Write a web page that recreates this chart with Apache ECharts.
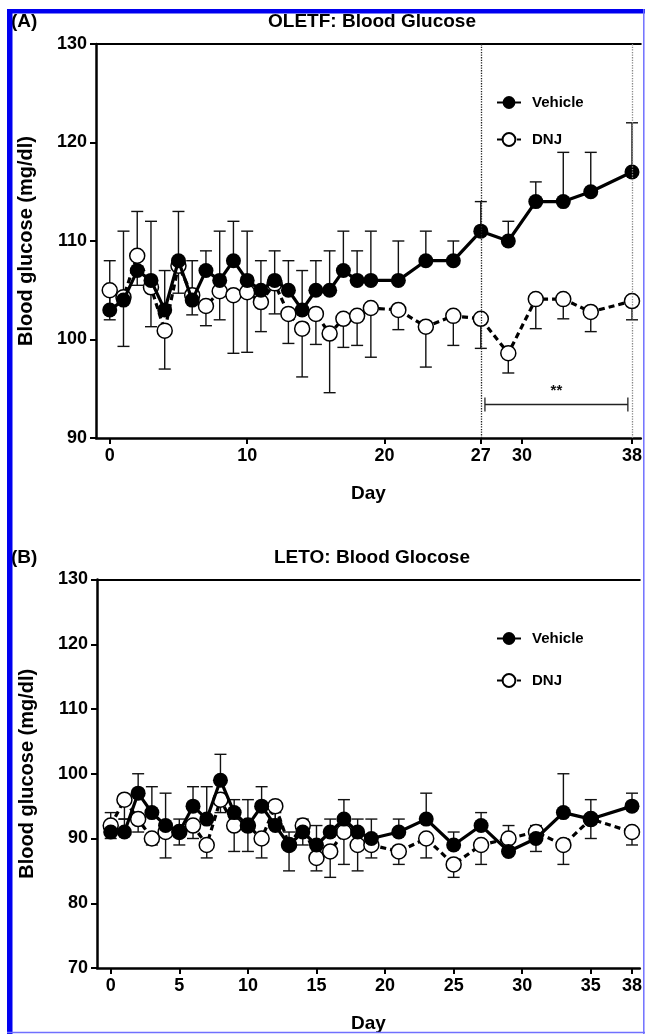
<!DOCTYPE html>
<html>
<head>
<meta charset="utf-8">
<title>Blood glucose</title>
<script src="https://cdn.jsdelivr.net/npm/echarts@6.0.0/dist/echarts.min.js"></script>
<style>
body { margin: 0; background: #fff; }
#chart { width: 645px; height: 1034px; }
</style>
</head>
<body>
<div id="chart"></div>
<script>
// sampling days (both panels)
var days = [0, 1, 2, 3, 4, 5, 6, 7, 8, 9, 10, 11, 12, 13, 14, 15, 16, 17, 18, 19, 21, 23, 25, 27, 29, 31, 33, 35, 38];

// (A) OLETF
var vehicleA = [103, 104, 107, 106, 103, 108, 104, 107, 106, 108, 106, 105, 106, 105, 103, 105, 105, 107, 106, 106, 106, 108, 108, 111, 110, 114, 114, 115, 117];
var vehicleErrA = [5, 7, 6, 6, 4, 5, 4, 2, 5, 4, 5, 3, 3, 3, 4, 3, 4, 4, 3, 5, 4, 3, 2, 3, 2, 2, 5, 4, 5];
var dnjA = [105, 104.3, 108.5, 105.3, 100.9, 107.5, 104.5, 103.4, 104.9, 104.5, 104.8, 103.8, 105.7, 102.6, 101.1, 102.6, 100.6, 102.1, 102.4, 103.2, 103.0, 101.3, 102.4, 102.1, 98.6, 104.1, 104.1, 102.8, 103.9];
var dnjErrA = [3, 5, 3, 4, 3.9, 2.8, 2, 2, 2.9, 5.9, 6.1, 3, 3.1, 3, 4.9, 3.1, 6, 2.9, 3, 5, 2, 4.1, 3, 3, 2, 3, 2, 2, 1.9];

// (B) LETO
var vehicleB = [91, 91, 97, 94, 92, 91, 95, 93, 99, 94, 92, 95, 92, 89, 91, 89, 91, 93, 91, 90, 91, 93, 89, 92, 88, 90, 94, 93, 95];
var vehicleErrB = [3, 2, 3, 4, 5, 2, 3, 5, 4, 2, 4, 3, 2, 2, 2, 3, 2, 3, 2, 3, 2, 4, 2, 2, 4, 2, 6, 3, 2];
var dnjB = [92, 96, 93, 90, 91, 91, 92, 89, 96, 92, 92, 90, 95, 89, 92, 87, 88, 91, 89, 89, 88, 90, 86, 89, 90, 91, 89, 93, 91];
var dnjErrB = [2, 3, 2, 1, 4, 2, 2, 2, 2, 4, 4, 3, 2, 4, 3, 2, 4, 5, 4, 2, 2, 3, 2, 3, 2, 3, 3, 3, 2];

// tick labels
var xTicksA = [0, 10, 20, 27, 30, 38];
var xTicksB = [0, 5, 10, 15, 20, 25, 30, 35, 38];
var markDaysA = [27, 38];
// significance bar: from day, to day, glucose level
var sigBar = [27.3, 37.7, 93.4];

var FONT = "'Liberation Sans', Arial, sans-serif";

function pairs(ys) {
  return days.map(function (d, i) { return [d, ys[i]]; });
}
function errData(ys, errs, dir) {
  return days.map(function (d, i) { return [d, ys[i], dir * errs[i]]; });
}

function renderErr(params, api) {
  var x = api.value(0), m = api.value(1), e = api.value(2);
  var p0 = api.coord([x, m]);
  var p1 = api.coord([x, m + e]);
  var st = { stroke: '#111', lineWidth: 1.4 };
  return {
    type: 'group',
    children: [
      { type: 'line', shape: { x1: p0[0], y1: p0[1], x2: p1[0], y2: p1[1] }, style: st },
      { type: 'line', shape: { x1: p1[0] - 6, y1: p1[1], x2: p1[0] + 6, y2: p1[1] }, style: st }
    ]
  };
}

function renderSig(params, api) {
  var a = api.coord([api.value(0), api.value(2)]);
  var b = api.coord([api.value(1), api.value(2)]);
  var st = { stroke: '#222', lineWidth: 1.3 };
  return {
    type: 'group',
    children: [
      { type: 'line', shape: { x1: a[0], y1: a[1], x2: b[0], y2: b[1] }, style: st },
      { type: 'line', shape: { x1: a[0], y1: a[1] - 7, x2: a[0], y2: a[1] + 7 }, style: st },
      { type: 'line', shape: { x1: b[0], y1: b[1] - 7, x2: b[0], y2: b[1] + 7 }, style: st },
      { type: 'text', style: { x: (a[0] + b[0]) / 2, y: a[1] - 6, text: '**', align: 'center', verticalAlign: 'bottom',
        font: 'bold 15px ' + FONT, fill: '#111' } }
    ]
  };
}

function vehicleSeries(idx, ys) {
  return {
    name: 'Vehicle', type: 'line', xAxisIndex: idx, yAxisIndex: idx, z: 4,
    data: pairs(ys), symbol: 'circle', symbolSize: 15,
    itemStyle: { color: '#000' },
    lineStyle: { color: '#000', width: 3.2 },
    animation: false
  };
}
function dnjSeries(idx, ys) {
  return {
    name: 'DNJ', type: 'line', xAxisIndex: idx, yAxisIndex: idx, z: 3,
    data: pairs(ys), symbol: 'circle', symbolSize: 15,
    itemStyle: { color: '#fff', borderColor: '#000', borderWidth: 1.5 },
    lineStyle: { color: '#000', width: 3.2, type: [6, 4] },
    animation: false
  };
}

var axisTxt = { color: '#000', fontWeight: 'bold', fontSize: 18, fontFamily: FONT };

function xAxisOf(grid, max, ticks) {
  return {
    type: 'value', gridIndex: grid, min: -1, max: max,
    name: 'Day', nameLocation: 'middle', nameGap: 46,
    nameTextStyle: { color: '#000', fontWeight: 'bold', fontSize: 19, fontFamily: FONT },
    splitLine: { show: false },
    axisLine: { onZero: false, lineStyle: { color: '#000', width: 2.5 } },
    axisTick: { customValues: ticks, length: 6, lineStyle: { color: '#000', width: 2 } },
    axisLabel: Object.assign({ customValues: ticks, margin: 9 }, axisTxt)
  };
}
function topAxisOf(grid, max) {
  return {
    type: 'value', gridIndex: grid, position: 'top', min: -1, max: max,
    axisLine: { show: true, onZero: false, lineStyle: { color: '#000', width: 2 } },
    axisTick: { show: false }, axisLabel: { show: false }, splitLine: { show: false }
  };
}
function yAxisOf(grid, min) {
  return {
    type: 'value', gridIndex: grid, min: min, max: 130, interval: 10,
    name: 'Blood glucose (mg/dl)', nameLocation: 'middle', nameGap: 60,
    nameTextStyle: { color: '#000', fontWeight: 'bold', fontSize: 20, fontFamily: FONT },
    splitLine: { show: false },
    axisLine: { show: true, onZero: false, lineStyle: { color: '#000', width: 2.5 } },
    axisTick: { show: true, length: 6, lineStyle: { color: '#000', width: 2 } },
    axisLabel: Object.assign({ margin: 9 }, axisTxt)
  };
}

function legendOf(top, gap) {
  return {
    data: ['Vehicle', 'DNJ'], orient: 'vertical', left: 496, top: top, itemGap: gap,
    padding: 0, itemWidth: 24, itemHeight: 16, selectedMode: false,
    textStyle: { color: '#000', fontWeight: 'bold', fontSize: 15, fontFamily: FONT, padding: [0, 0, 0, 6] }
  };
}

var titleStyle = { color: '#000', fontWeight: 'bold', fontSize: 19, fontFamily: FONT };

var chart = echarts.init(document.getElementById('chart'));
chart.setOption({
  animation: false,
  backgroundColor: '#fff',
  title: [
    { text: 'OLETF: Blood Glucose', left: 372, top: 12, textAlign: 'center', padding: 0, textStyle: titleStyle },
    { text: 'LETO: Blood Glocose', left: 372, top: 548, textAlign: 'center', padding: 0, textStyle: titleStyle },
    { text: '(A)', left: 11, top: 12, padding: 0, textStyle: titleStyle },
    { text: '(B)', left: 11, top: 548, padding: 0, textStyle: titleStyle }
  ],
  legend: [legendOf(95, 22), legendOf(631, 27)],
  grid: [
    { left: 96, top: 44, width: 547, height: 394 },
    { left: 97, top: 579.5, width: 546, height: 392.5 }
  ],
  xAxis: [xAxisOf(0, 38.64, xTicksA), xAxisOf(1, 38.57, xTicksB), topAxisOf(0, 38.64), topAxisOf(1, 38.57)],
  yAxis: [yAxisOf(0, 90), yAxisOf(1, 70)],
  series: [
    { type: 'custom', xAxisIndex: 0, yAxisIndex: 0, z: 1, renderItem: renderErr, data: errData(vehicleA, vehicleErrA, 1) },
    { type: 'custom', xAxisIndex: 0, yAxisIndex: 0, z: 1, renderItem: renderErr, data: errData(dnjA, dnjErrA, -1) },
    { type: 'custom', xAxisIndex: 1, yAxisIndex: 1, z: 1, renderItem: renderErr, data: errData(vehicleB, vehicleErrB, 1) },
    { type: 'custom', xAxisIndex: 1, yAxisIndex: 1, z: 1, renderItem: renderErr, data: errData(dnjB, dnjErrB, -1) },
    { type: 'custom', xAxisIndex: 0, yAxisIndex: 0, z: 1, renderItem: renderSig, data: [sigBar] },
    Object.assign(vehicleSeries(0, vehicleA), {
      markLine: {
        silent: true, symbol: 'none', label: { show: false },
        data: markDaysA.map(function (d, i) {
          return { xAxis: d, lineStyle: { color: i === 0 ? '#222' : '#888', width: 1.3, type: 'dotted' } };
        })
      }
    }),
    dnjSeries(0, dnjA),
    vehicleSeries(1, vehicleB),
    dnjSeries(1, dnjB)
  ],
  graphic: [
    { type: 'rect', shape: { x: 7, y: 9, width: 5.5, height: 1025 }, style: { fill: '#0000f0' }, z: 100 },
    { type: 'rect', shape: { x: 7, y: 9, width: 638, height: 4.5 }, style: { fill: '#0000f0' }, z: 100 },
    { type: 'line', shape: { x1: 643.8, y1: 9, x2: 643.8, y2: 1034 }, style: { stroke: '#7070ff', lineWidth: 1.5 }, z: 100 },
    { type: 'line', shape: { x1: 7, y1: 1032.5, x2: 645, y2: 1032.5 }, style: { stroke: '#7070ff', lineWidth: 1.5 }, z: 100 }
  ]
});
</script>
</body>
</html>
